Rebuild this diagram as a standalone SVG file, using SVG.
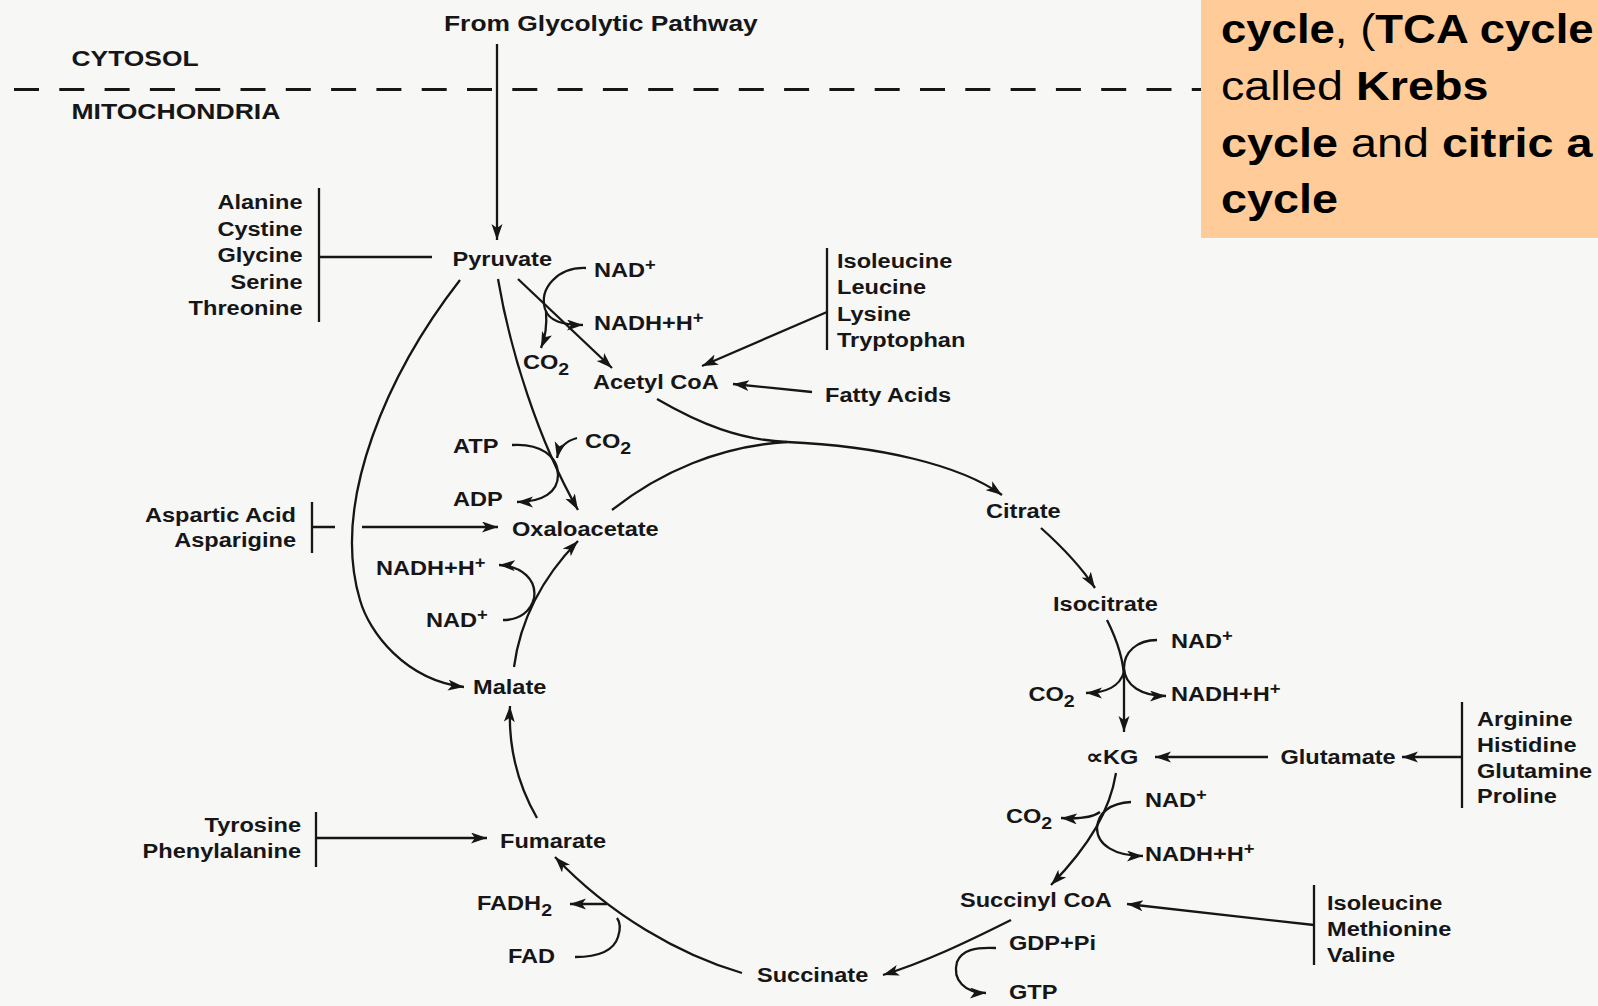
<svg xmlns="http://www.w3.org/2000/svg" width="1598" height="1006" viewBox="0 0 1598 1006">
<style>
.t{font-family:"Liberation Sans",Arial,Helvetica,sans-serif;font-weight:bold;font-size:20.5px;fill:#161616}
.h{font-family:"Liberation Sans",Arial,Helvetica,sans-serif;font-weight:bold;font-size:22px;fill:#161616}
.e{text-anchor:end}
.sup{font-size:16px}
.sub{font-size:17px}
.ln{fill:none;stroke:#161616;stroke-width:2.3}
.ar{marker-end:url(#ah)}
.dash{fill:none;stroke:#161616;stroke-width:2.8;stroke-dasharray:25 20.3}
.ob{font-family:"Liberation Sans",Arial,Helvetica,sans-serif;font-size:41px;fill:#000}
.b{font-weight:bold}
</style>
<defs>
<marker id="ah" markerUnits="userSpaceOnUse" markerWidth="17" markerHeight="12" refX="16" refY="5.5" orient="auto">
<path d="M0,0 L16,5.5 L0,11 L4,5.5 z" fill="#161616"/>
</marker>
</defs>
<rect x="0" y="0" width="1598" height="1006" fill="#f7f7f6"/>

<g id="compartments">
<line class="dash" x1="14" y1="89.5" x2="1201" y2="89.5"/>
<text class="h" transform="translate(444,31) scale(1.2,1)">From Glycolytic Pathway</text>
<text class="h" transform="translate(71.5,65.5) scale(1.2,1)">CYTOSOL</text>
<text class="h" transform="translate(71.5,119) scale(1.18,1)" style="font-size:22.5px">MITOCHONDRIA</text>
</g>

<g id="note">
<rect x="1201" y="0" width="397" height="238" fill="#ffcc99"/>
<text class="ob" transform="translate(1221,43) scale(1.11,1)"><tspan class="b">cycle</tspan>, (<tspan class="b">TCA cycle</tspan></text>
<text class="ob" transform="translate(1221,100) scale(1.14,1)">called <tspan class="b">Krebs</tspan></text>
<text class="ob" transform="translate(1221,157) scale(1.14,1)"><tspan class="b">cycle</tspan> and <tspan class="b">citric a</tspan></text>
<text class="ob" transform="translate(1221,213) scale(1.14,1)"><tspan class="b">cycle</tspan></text>
</g>

<g id="connectors">
<path class="ln ar" d="M497,44 L497,240"/>
<path class="ln" d="M319,188 L319,322 M319,257 L432,257"/>
<path class="ln ar" d="M518,279 L612,368"/>
<path class="ln ar" d="M586,268 C558,267 539,288 545,309 C549,321 562,325 583,325"/>
<path class="ln ar" d="M546,311 C547,324 546,336 541,348"/>
<path class="ln" d="M827,248 L827,350"/>
<path class="ln ar" d="M827,312 L702,366"/>
<path class="ln ar" d="M812,392 L733,384"/>
<path class="ln ar" d="M498,279 C510,350 538,440 578,510"/>
<path class="ln ar" d="M512,445 C540,443 558,456 558,475 C558,492 543,502 517,502"/>
<path class="ln ar" d="M577,438 C566,441 559,448 557,458"/>
<path class="ln" d="M312,502 L312,553 M312,527 L335,527"/>
<path class="ln ar" d="M362,527 L498,527"/>
<path class="ln ar" d="M460,280 C390,370 330,500 360,600 C369,632 405,680 464,687"/>
<path class="ln" d="M612,510 C660,472 720,446 787,442"/>
<path class="ln ar" d="M657,399 C700,424 740,440 787,442 C880,446 960,465 1002,495"/>
<path class="ln ar" d="M1041,528 C1060,545 1080,565 1095,588"/>
<path class="ln ar" d="M1107,620 C1118,642 1124,660 1124,680 L1124,732"/>
<path class="ln ar" d="M1157,640 C1137,640 1124,652 1124,668 C1125,686 1142,696 1166,696"/>
<path class="ln ar" d="M1124,672 C1120,686 1106,693 1086,693"/>
<path class="ln ar" d="M1268,757 L1155,757"/>
<path class="ln" d="M1462,702 L1462,808"/>
<path class="ln ar" d="M1462,757 L1402,757"/>
<path class="ln ar" d="M1116,773 C1110,810 1090,845 1051,885"/>
<path class="ln ar" d="M1131,802 C1110,803 1098,813 1097,828 C1097,845 1115,856 1143,856"/>
<path class="ln ar" d="M1100,812 C1092,818 1078,819 1061,818"/>
<path class="ln" d="M1314,885 L1314,965"/>
<path class="ln ar" d="M1314,925 L1127,904"/>
<path class="ln ar" d="M1011,920 C965,943 925,962 883,975"/>
<path class="ln ar" d="M996,948 C975,947 962,950 957,962 C952,980 965,993 986,993"/>
<path class="ln ar" d="M742,973 C680,955 610,915 555,857"/>
<path class="ln ar" d="M607,904 L570,904"/>
<path class="ln" d="M575,957 C600,957 614,950 618,937 C621,928 620,922 617,918"/>
<path class="ln" d="M316,812 L316,867"/>
<path class="ln ar" d="M316,838 L487,838"/>
<path class="ln ar" d="M537,818 C518,785 508,750 510,706"/>
<path class="ln ar" d="M514,667 C520,622 540,580 578,541"/>
<path class="ln ar" d="M503,620 C520,620 531,611 534,598 C537,580 522,566 499,565"/>
</g>

<g id="n-aa1">
<text class="t e" transform="translate(302.5,209) scale(1.15,1)">Alanine</text>
<text class="t e" transform="translate(302.5,235.5) scale(1.15,1)">Cystine</text>
<text class="t e" transform="translate(302.5,262) scale(1.15,1)">Glycine</text>
<text class="t e" transform="translate(302.5,288.5) scale(1.15,1)">Serine</text>
<text class="t e" transform="translate(302.5,315) scale(1.15,1)">Threonine</text>
</g>
<g id="n-pyruvate"><text class="t" transform="translate(452.5,265.5) scale(1.15,1)">Pyruvate</text></g>
<g id="n-pdh-cof">
<text class="t" transform="translate(594,277) scale(1.15,1)">NAD<tspan class="sup" dy="-7">+</tspan></text>
<text class="t" transform="translate(594,330) scale(1.15,1)">NADH+H<tspan class="sup" dy="-7">+</tspan></text>
<text class="t" transform="translate(523,369) scale(1.15,1)">CO<tspan class="sub" dy="6">2</tspan></text>
</g>
<g id="n-acetylcoa"><text class="t" transform="translate(593,389) scale(1.15,1)">Acetyl CoA</text></g>
<g id="n-aa2">
<text class="t" transform="translate(837,267.5) scale(1.15,1)">Isoleucine</text>
<text class="t" transform="translate(837,294) scale(1.15,1)">Leucine</text>
<text class="t" transform="translate(837,320.5) scale(1.15,1)">Lysine</text>
<text class="t" transform="translate(837,347) scale(1.15,1)">Tryptophan</text>
</g>
<g id="n-fatty"><text class="t" transform="translate(825,402) scale(1.15,1)">Fatty Acids</text></g>
<g id="n-pc-cof">
<text class="t" transform="translate(453,453) scale(1.15,1)">ATP</text>
<text class="t" transform="translate(585,448) scale(1.15,1)">CO<tspan class="sub" dy="6">2</tspan></text>
<text class="t" transform="translate(453,506) scale(1.15,1)">ADP</text>
</g>
<g id="n-aa3">
<text class="t e" transform="translate(296,521.5) scale(1.15,1)">Aspartic Acid</text>
<text class="t e" transform="translate(296,547) scale(1.15,1)">Asparigine</text>
</g>
<g id="n-oaa"><text class="t" transform="translate(512,536) scale(1.15,1)">Oxaloacetate</text></g>
<g id="n-mdh-cof">
<text class="t" transform="translate(376,574.5) scale(1.15,1)">NADH+H<tspan class="sup" dy="-7">+</tspan></text>
<text class="t" transform="translate(426,627) scale(1.15,1)">NAD<tspan class="sup" dy="-7">+</tspan></text>
</g>
<g id="n-malate"><text class="t" transform="translate(473,694) scale(1.15,1)">Malate</text></g>
<g id="n-citrate"><text class="t" transform="translate(986,518) scale(1.15,1)">Citrate</text></g>
<g id="n-isocitrate"><text class="t" transform="translate(1053,610.5) scale(1.15,1)">Isocitrate</text></g>
<g id="n-idh-cof">
<text class="t" transform="translate(1171,648) scale(1.15,1)">NAD<tspan class="sup" dy="-7">+</tspan></text>
<text class="t" transform="translate(1028.5,700.5) scale(1.15,1)">CO<tspan class="sub" dy="6">2</tspan></text>
<text class="t" transform="translate(1171,701) scale(1.15,1)">NADH+H<tspan class="sup" dy="-7">+</tspan></text>
</g>
<g id="n-akg"><text class="t" transform="translate(1086,764) scale(1.15,1)">∝KG</text></g>
<g id="n-glutamate"><text class="t" transform="translate(1280.5,764) scale(1.15,1)">Glutamate</text></g>
<g id="n-aa4">
<text class="t" transform="translate(1477,726) scale(1.15,1)">Arginine</text>
<text class="t" transform="translate(1477,752) scale(1.15,1)">Histidine</text>
<text class="t" transform="translate(1477,777.5) scale(1.15,1)">Glutamine</text>
<text class="t" transform="translate(1477,803) scale(1.15,1)">Proline</text>
</g>
<g id="n-kgdh-cof">
<text class="t" transform="translate(1145,807) scale(1.15,1)">NAD<tspan class="sup" dy="-7">+</tspan></text>
<text class="t" transform="translate(1006,823) scale(1.15,1)">CO<tspan class="sub" dy="6">2</tspan></text>
<text class="t" transform="translate(1145,861) scale(1.15,1)">NADH+H<tspan class="sup" dy="-7">+</tspan></text>
</g>
<g id="n-succoa"><text class="t" transform="translate(960,906.5) scale(1.15,1)">Succinyl CoA</text></g>
<g id="n-aa5">
<text class="t" transform="translate(1327,910) scale(1.15,1)">Isoleucine</text>
<text class="t" transform="translate(1327,936) scale(1.15,1)">Methionine</text>
<text class="t" transform="translate(1327,962) scale(1.15,1)">Valine</text>
</g>
<g id="n-scs-cof">
<text class="t" transform="translate(1009,950) scale(1.15,1)">GDP+Pi</text>
<text class="t" transform="translate(1009,999) scale(1.15,1)">GTP</text>
</g>
<g id="n-succinate"><text class="t" transform="translate(757,982) scale(1.15,1)">Succinate</text></g>
<g id="n-sdh-cof">
<text class="t" transform="translate(477,910) scale(1.15,1)">FADH<tspan class="sub" dy="6">2</tspan></text>
<text class="t" transform="translate(508,963) scale(1.15,1)">FAD</text>
</g>
<g id="n-fumarate"><text class="t" transform="translate(500,848) scale(1.15,1)">Fumarate</text></g>
<g id="n-aa6">
<text class="t e" transform="translate(301,831.5) scale(1.15,1)">Tyrosine</text>
<text class="t e" transform="translate(301,857.5) scale(1.15,1)">Phenylalanine</text>
</g>
</svg>
